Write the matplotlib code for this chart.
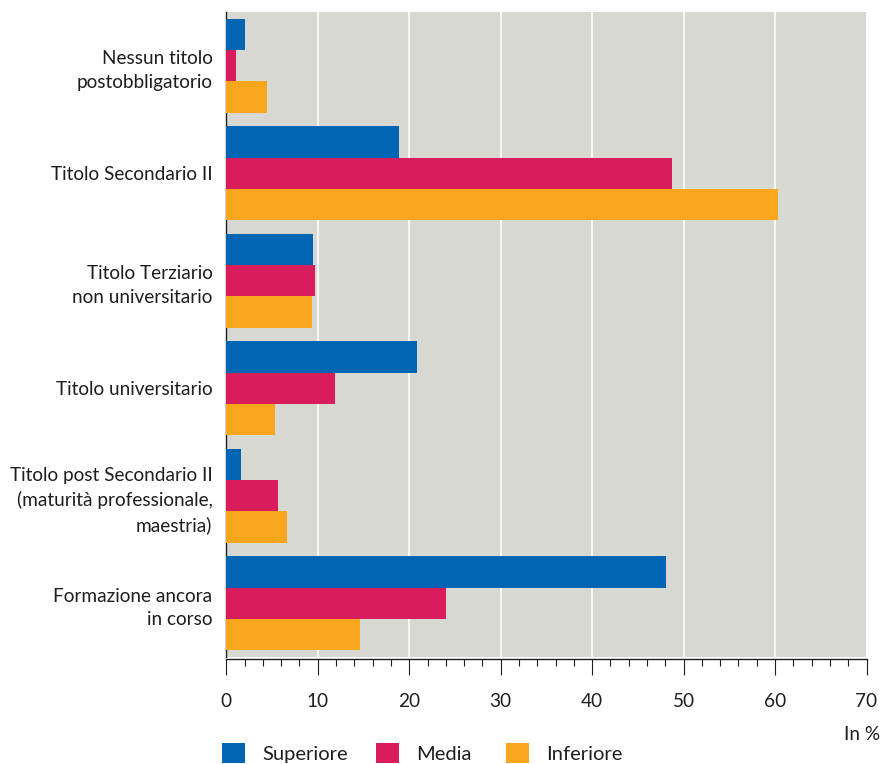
import matplotlib
matplotlib.use("Agg")
import matplotlib.pyplot as plt
from matplotlib.patches import Patch
from matplotlib.ticker import MultipleLocator
import numpy as np

plt.rcParams['font.family'] = ['Lato', 'DejaVu Sans']

categories = [
    "Nessun titolo\npostobbligatorio",
    "Titolo Secondario II",
    "Titolo Terziario\nnon universitario",
    "Titolo universitario",
    "Titolo post Secondario II\n(maturità professionale,\nmaestria)",
    "Formazione ancora\nin corso",
]
series_names = ["Superiore", "Media", "Inferiore"]
superiore = [2.0, 18.9, 9.5, 20.9, 1.6, 48.1]
media = [1.1, 48.7, 9.7, 11.9, 5.7, 24.0]
inferiore = [4.5, 60.3, 9.4, 5.3, 6.6, 14.6]
x_ticks = [0, 10, 20, 30, 40, 50, 60, 70]

colors = ["#0066b3", "#d91d5c", "#f8a61c"]
bg = "#d8d8d3"
text_col = "#1e1e1e"
fs = 13.7

fig = plt.figure(figsize=(8.82, 7.64), dpi=100)
ax = fig.add_axes([226.3 / 882, 1 - 657 / 764, 640.2 / 882, 645 / 764])
ax.set_facecolor(bg)

y = np.arange(len(categories))
h = 0.293
for k, (vals, c) in enumerate(zip([superiore, media, inferiore], colors)):
    ax.barh(y + (k - 1) * h, vals, height=h, color=c, zorder=3)

ax.set_xlim(0, 70)
ax.set_ylim(len(categories) - 0.5, -0.5)
ax.set_xticks(x_ticks)
ax.xaxis.set_minor_locator(MultipleLocator(2))
ax.set_yticks(y)
ax.set_yticklabels(categories, ha='right', linespacing=1.45)
for lab in ax.get_yticklabels():
    lab.set_multialignment('right')

ax.grid(axis='x', which='major', color='white', linewidth=1.2, zorder=1)
ax.set_axisbelow(True)

for s in ['top', 'right']:
    ax.spines[s].set_visible(False)
ax.spines['left'].set_color('#1e1e1e')
ax.spines['left'].set_linewidth(1.0)
ax.spines['bottom'].set_color('#1e1e1e')
ax.spines['bottom'].set_linewidth(1.0)
ax.spines['bottom'].set_position(('outward', 1.5))

ax.tick_params(axis='y', length=0, pad=10, labelsize=fs, labelcolor=text_col)
ax.tick_params(axis='x', which='major', direction='out', length=11.5, width=0.8,
               color='#1e1e1e', pad=13, labelsize=fs, labelcolor=text_col)
ax.tick_params(axis='x', which='minor', direction='out', length=5, width=0.8,
               color='#1e1e1e')

fig.text(880 / 882, 1 - 735 / 764, "In %", ha='right', va='center',
         fontsize=fs, color=text_col)

# one legend entry per series, each anchored at its own horizontal spot
legend_x = [221, 375, 505]
for name, c, lx in zip(series_names, colors, legend_x):
    leg = fig.legend([Patch(facecolor=c, edgecolor='none')], [name],
                     loc='lower left', bbox_to_anchor=(lx / 882, 0.0),
                     frameon=False, fontsize=14.5, handlelength=1.15,
                     handleheight=1.15, handletextpad=0.85, borderpad=0.05,
                     borderaxespad=0.0, labelcolor=text_col)

fig.savefig("out.png", dpi=100)
